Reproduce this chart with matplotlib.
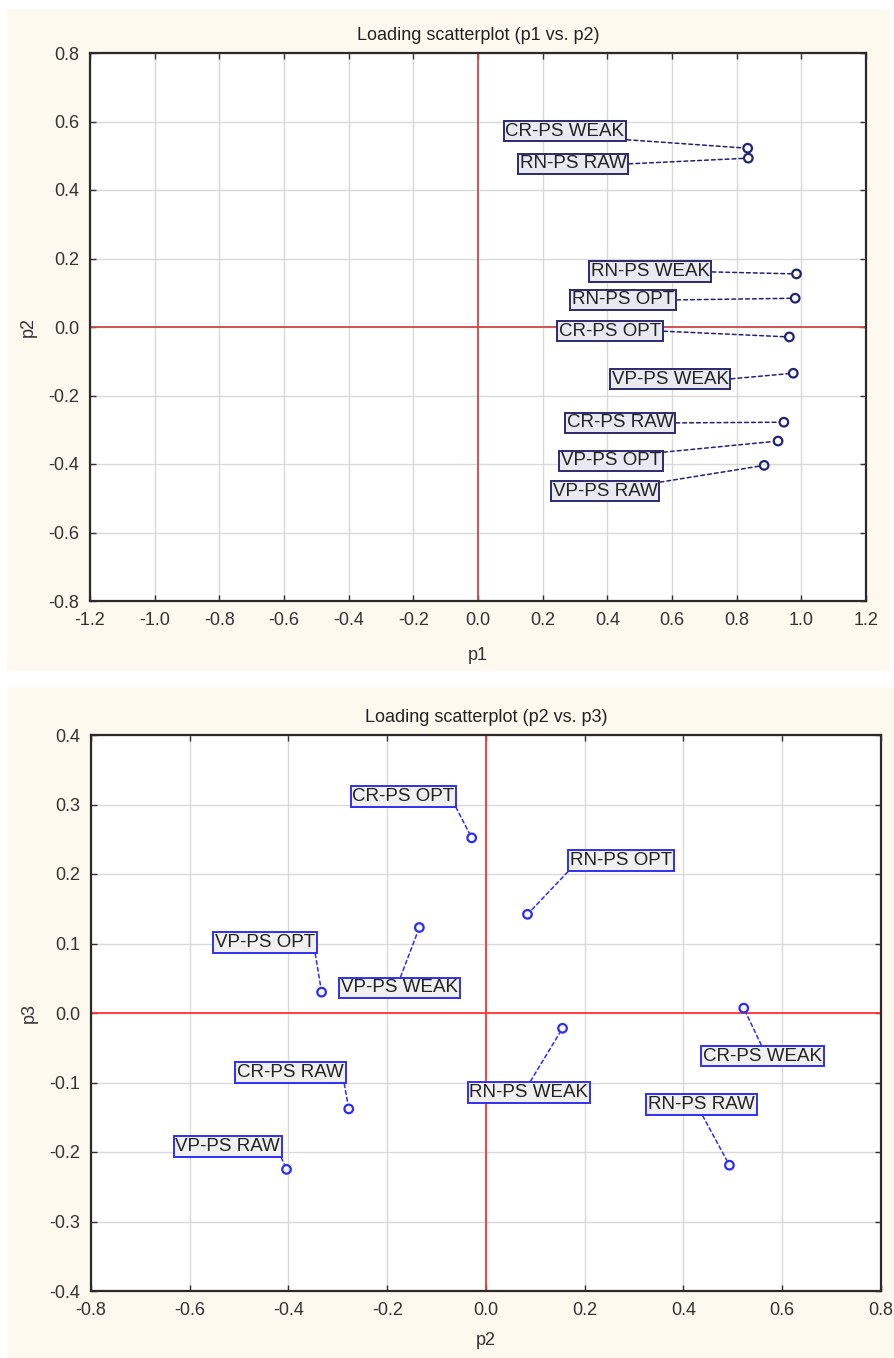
import matplotlib
matplotlib.use("Agg")
import matplotlib.pyplot as plt
from matplotlib.patches import Rectangle
import numpy as np

plt.rcParams['font.family'] = ['Liberation Sans', 'DejaVu Sans']

# ---- data: loadings ----
names = ["CR-PS WEAK", "RN-PS RAW", "RN-PS WEAK", "RN-PS OPT", "CR-PS OPT",
         "VP-PS WEAK", "CR-PS RAW", "VP-PS OPT", "VP-PS RAW"]
p1 = [0.834, 0.836, 0.985, 0.981, 0.963, 0.975, 0.946, 0.928, 0.885]
p2 = [0.522, 0.493, 0.155, 0.084, -0.029, -0.135, -0.278, -0.333, -0.404]
p3 = [0.007, -0.219, -0.022, 0.142, 0.252, 0.123, -0.138, 0.030, -0.225]

x1_ticks = [-1.2, -1.0, -0.8, -0.6, -0.4, -0.2, 0.0, 0.2, 0.4, 0.6, 0.8, 1.0, 1.2]
y1_ticks = [-0.8, -0.6, -0.4, -0.2, 0.0, 0.2, 0.4, 0.6, 0.8]
x2_ticks = [-0.8, -0.6, -0.4, -0.2, 0.0, 0.2, 0.4, 0.6, 0.8]
y2_ticks = [-0.4, -0.3, -0.2, -0.1, 0.0, 0.1, 0.2, 0.3, 0.4]

# ---- layout: label box centres (data coords) and connector anchor on box ----
lab1 = [(0.269, 0.572), (0.294, 0.476), (0.532, 0.161), (0.449, 0.079), (0.408, -0.012),
        (0.594, -0.152), (0.439, -0.280), (0.411, -0.391), (0.393, -0.479)]
rel1 = [(1, 0), (1, 0.5), (1, 0.5), (1, 0.5), (1, 0.5), (1, 0.5), (1, 0.5), (1, 1), (1, 1)]
lab2 = [(0.560, -0.062), (0.436, -0.132), (0.087, -0.114), (0.274, 0.219), (-0.167, 0.312),
        (-0.175, 0.036), (-0.396, -0.086), (-0.448, 0.101), (-0.523, -0.192)]
rel2 = [(0.5, 1), (0.5, 0), (0.5, 1), (0, 0), (1, 0), (0.5, 1), (1, 0), (1, 0), (1, 0)]

W, H = 895, 1358
fig = plt.figure(figsize=(W / 100, H / 100), dpi=100)
fig.patch.set_facecolor('white')

cream = '#FDF9EE'
def px_rect(x0, y0, x1, y1):
    return Rectangle((x0 / W, 1 - y1 / H), (x1 - x0) / W, (y1 - y0) / H,
                     transform=fig.transFigure, facecolor=cream, edgecolor='none', zorder=-5)
fig.patches.append(px_rect(7, 9, 890, 671))
fig.patches.append(px_rect(7, 687, 895, 1358))

def ax_px(x0, y0, x1, y1):
    return fig.add_axes([x0 / W, 1 - y1 / H, (x1 - x0) / W, (y1 - y0) / H])

ax1 = ax_px(90, 53, 866, 601)
ax2 = ax_px(91, 735, 881, 1291)

def style(ax, xt, yt, xl, yl, title, redc, xlpad):
    ax.set_facecolor('white')
    ax.set_xlim(xt[0], xt[-1])
    ax.set_ylim(yt[0], yt[-1])
    ax.set_xticks(xt)
    ax.set_yticks(yt)
    ax.set_xticklabels(['%.1f' % v for v in xt])
    ax.set_yticklabels(['%.1f' % v for v in yt])
    ax.tick_params(direction='in', length=4, width=1, top=True, right=True,
                   labelsize=13, labelcolor='#333333', color='#333333', pad=8)
    ax.tick_params(axis='x', pad=8)
    ax.grid(True, color='#D9D9D9', lw=1, zorder=0)
    ax.set_axisbelow(True)
    for s in ax.spines.values():
        s.set_color('#2A2A2A')
        s.set_linewidth(1.6)
    ax.axhline(0, color=redc, lw=1.3, zorder=1)
    ax.axvline(0, color=redc, lw=1.3, zorder=1)
    ax.set_xlabel(xl, fontsize=13, color='#333333', labelpad=xlpad)
    ax.set_ylabel(yl, fontsize=13, color='#333333', labelpad=8)
    ax.set_title(title, fontsize=13, color='#222222', pad=9)

style(ax1, x1_ticks, y1_ticks, 'p1', 'p2', 'Loading scatterplot (p1 vs. p2)', '#D04848', 13)
style(ax2, x2_ticks, y2_ticks, 'p2', 'p3', 'Loading scatterplot (p2 vs. p3)', '#FF3333', 9)

def draw(ax, xs, ys, labs, rels, mc, ec, fc):
    ax.scatter(xs, ys, s=38, facecolors='none', edgecolors=mc, linewidths=1.6, zorder=4)
    for n, x, y, (lx, ly), rp in zip(names, xs, ys, labs, rels):
        ax.annotate(n, xy=(x, y), xytext=(lx, ly), textcoords='data',
                    ha='center', va='center', fontsize=13.5, color='#222222', zorder=5,
                    bbox=dict(boxstyle='square,pad=0.1', fc=fc, ec=ec, lw=1.4),
                    arrowprops=dict(arrowstyle='-', ls=(0, (2.5, 2)), color=mc, lw=1.1,
                                    shrinkA=0, shrinkB=4, relpos=rp))

draw(ax1, p1, p2, lab1, rel1, '#22227A', '#2A2A6E', '#E9E9F2')
draw(ax2, p2, p3, lab2, rel2, '#2B2BFF', '#3030F0', '#F0F0F0')

fig.savefig('out.png', dpi=100, facecolor='white')
